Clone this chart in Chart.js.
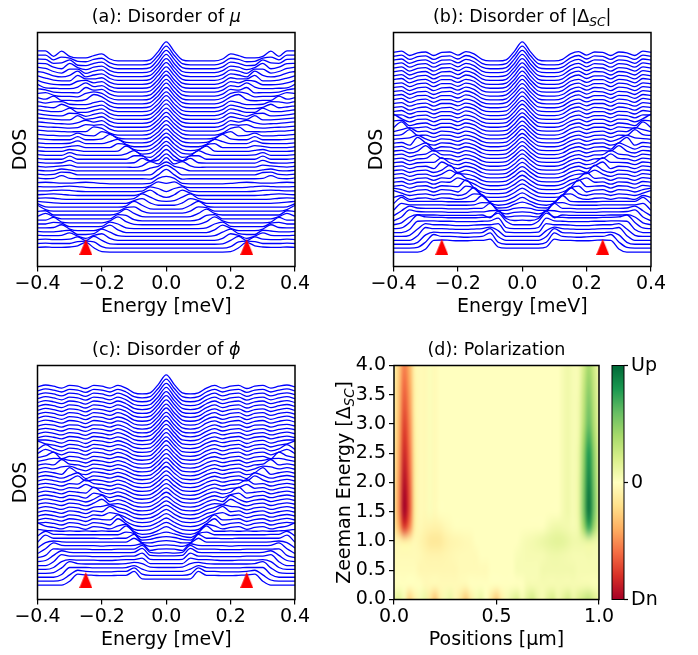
<!DOCTYPE html>
<html>
<head>
<meta charset="utf-8">
<title>DOS under disorder and polarization</title>
<script src="https://cdn.jsdelivr.net/npm/chart.js@4.4.1/dist/chart.umd.min.js"></script>
<style>
  html, body { margin: 0; padding: 0; background: #fff; }
  body { position: relative; width: 698px; height: 655px; overflow: hidden; }
  canvas { position: absolute; }
</style>
</head>
<body>
<canvas id="chartMu" width="320" height="327" style="left:0px;top:0px"></canvas>
<canvas id="chartDelta" width="320" height="327" style="left:356px;top:0px"></canvas>
<canvas id="chartPhi" width="320" height="327" style="left:0px;top:333px"></canvas>
<canvas id="chartPol" width="368" height="327" style="left:330px;top:333px"></canvas>
<script>
Chart.defaults.font.family = '"DejaVu Sans", "Liberation Sans", sans-serif';
Chart.defaults.color = '#000';

// energy grid (meV), positive half only - the DOS curves are particle-hole symmetric
const energies = [0, 0.025, 0.05, 0.075, 0.1, 0.125, 0.15, 0.175, 0.2, 0.225, 0.25, 0.275, 0.3, 0.325, 0.35, 0.375, 0.4];
const energyTicks = [-0.4, -0.2, 0, 0.2, 0.4];

// red triangles at the gap edge
const markerEnergies = [-0.25, 0.25];
const markerLevel = 1.3;

// DOS curves, one row per Zeeman step (lowest field first), values at `energies`
const dosMu = [
  [0,0,0,0,0,0,0,0,0.1,1.1,2.5,1.6,1.3,1.2,1.2,1.3,1.2],
  [0,0,0,0,0,0,0,0,0.4,1.6,1.8,1.7,1.2,1.2,1.2,1.3,1.2],
  [0,0,0,0,0,0,0,0.1,1.0,2.0,0.9,1.9,1.3,1.2,1.2,1.3,1.2],
  [0,0,0,0,0,0,0,0.5,1.7,1.3,0.5,1.1,1.9,1.3,1.2,1.2,1.3],
  [0,0,0,0,0,0,0.2,1.1,1.9,0.7,0.5,0.5,1.6,1.4,1.2,1.2,1.3],
  [0,0,0,0,0,0,0.7,1.9,1.1,0.5,0.5,0.5,0.9,2.0,1.3,1.2,1.2],
  [0,0,0,0,0,0.2,1.2,1.7,0.6,0.5,0.5,0.5,0.5,1.4,1.6,1.2,1.2],
  [0,0,0,0,0.1,0.8,2.0,1.0,0.5,0.5,0.5,0.5,0.5,0.7,1.9,1.2,1.2],
  [0,0,0,0,0.3,1.4,1.6,0.5,0.5,0.5,0.5,0.5,0.5,0.5,1.1,1.9,1.2],
  [0,0,0,0.1,0.9,2.0,0.9,0.5,0.5,0.5,0.5,0.5,0.5,0.5,0.5,1.6,1.4],
  [0,0,0,0.5,1.6,1.4,0.5,0.5,0.5,0.5,0.5,0.5,0.5,0.5,0.5,0.9,2.0],
  [0,0,0.1,1.0,2.0,0.8,0.5,0.5,0.5,0.5,0.5,0.5,0.5,0.5,0.5,0.6,1.4],
  [0,0,0.6,1.7,1.2,0.5,0.5,0.5,0.5,0.5,0.5,0.5,0.5,0.5,0.6,0.8,1.0],
  [0,0.2,1.1,1.9,0.7,0.5,0.5,0.5,0.5,0.5,0.5,0.5,0.5,0.6,0.8,0.9,0.8],
  [0,0.7,1.9,1.1,0.5,0.5,0.5,0.5,0.5,0.5,0.5,0.5,0.6,0.8,0.9,0.8,0.7],
  [0.5,1.3,1.7,0.6,0.5,0.5,0.5,0.5,0.5,0.5,0.5,0.6,0.8,0.9,0.8,0.7,0.7],
  [1.6,2.0,1.0,0.5,0.5,0.5,0.5,0.5,0.5,0.5,0.6,0.8,0.9,0.8,0.7,0.7,0.8],
  [2.4,1.9,0.6,0.5,0.5,0.5,0.5,0.5,0.6,0.8,0.9,0.8,0.7,0.7,0.8,0.9,0.8],
  [3.2,1.8,0.7,0.8,0.8,0.8,0.8,0.8,0.8,0.8,0.8,0.8,0.9,1.6,0.9,0.8,1.0],
  [3.3,2.2,0.8,0.8,0.8,0.8,0.8,0.8,0.8,0.8,0.8,0.8,1.4,1.5,0.9,0.8,1.0],
  [3.1,2.0,1.5,0.8,0.8,0.8,0.8,0.8,0.8,0.8,0.8,0.8,1.1,1.3,0.9,0.8,1.0],
  [3.2,1.6,2.2,1.1,0.7,0.8,0.8,0.8,0.8,0.8,0.8,0.8,1.3,1.1,0.9,0.8,1.0],
  [3.2,1.6,1.3,2.0,0.9,0.8,0.8,0.8,0.8,0.8,0.8,0.8,1.5,0.9,0.8,0.8,1.0],
  [3.3,1.6,0.4,1.7,1.7,0.8,0.8,0.8,0.8,0.8,0.8,0.8,1.6,0.8,0.8,0.8,1.0],
  [3.4,1.7,0.3,0.7,2.0,1.2,0.8,0.8,0.8,0.8,0.8,0.9,1.5,0.8,0.8,0.8,1.0],
  [3.4,1.7,0.3,0.1,1.1,2.2,0.9,0.8,0.8,0.8,0.8,1.1,1.3,0.8,0.8,0.8,1.0],
  [3.5,1.7,0.3,0,0.3,1.5,1.8,0.8,0.8,0.8,0.8,1.3,1.1,0.8,0.8,0.8,1.0],
  [3.5,1.8,0.3,0,0,0.6,1.9,1.3,0.8,0.8,0.8,1.5,0.9,0.8,0.8,0.8,1.0],
  [3.6,1.8,0.3,0,0,0.1,1.0,2.2,1.0,0.8,0.8,1.6,0.8,0.8,0.8,0.9,1.1],
  [3.7,1.8,0.3,0,0,0,0.3,1.3,1.9,0.8,0.9,1.5,0.8,0.8,0.9,1.0,1.2],
  [3.7,1.9,0.3,0,0,0,0,0.5,1.7,2.1,0.9,0.9,0.8,0.9,1.0,1.1,1.3],
  [3.8,1.9,0.3,0,0,0,0,0.5,1.7,1.5,1.7,0.9,0.8,0.9,1.0,1.1,1.3],
  [3.8,1.9,0.3,0,0,0,0,0.5,1.7,1.3,1.8,1.2,0.8,0.9,1.0,1.2,1.4],
  [3.9,2.0,0.3,0,0,0,0,0.5,1.7,1.3,1.0,2.0,0.9,0.9,1.0,1.2,1.4],
  [4.0,2.0,0.3,0,0,0,0,0.5,1.7,1.3,0.8,1.5,1.6,0.9,1.0,1.2,1.5],
  [4.0,2.0,0.3,0,0,0,0,0.5,1.7,1.3,0.8,0.8,1.9,1.1,1.0,1.2,1.5],
  [4.1,2.0,0.3,0,0,0,0,0.5,1.7,1.3,0.8,0.8,1.1,1.9,1.0,1.2,1.5],
  [4.1,2.1,0.3,0,0,0,0,0.5,1.7,1.3,0.8,0.8,0.9,1.6,1.5,1.2,1.6],
  [4.2,2.1,0.3,0,0,0,0,0.5,1.8,2.4,1.1,0.8,0.9,0.9,2.0,1.2,1.6],
  [4.3,2.1,0.3,0,0,0,0,0.5,1.7,2.1,1.7,0.8,0.9,0.9,1.2,1.9,1.7],
  [4.3,2.2,0.3,0,0,0,0,0.5,1.7,1.5,2.2,0.8,0.9,0.9,1.0,1.6,1.9],
  [4.4,2.2,0.3,0,0,0,0,0.5,1.7,1.4,2.4,1.3,0.9,0.9,1.0,1.1,2.0],
  [4.4,2.2,0.3,0,0,0,0,0.5,1.7,1.4,2.0,1.8,0.9,0.9,1.0,1.4,2.0],
  [4.5,2.3,0.3,0,0,0,0,0.5,1.7,1.4,1.4,2.3,0.9,0.9,1.1,1.6,2.2],
  [4.6,2.3,0.3,0,0,0,0,0.5,1.7,1.4,0.9,2.4,1.3,0.9,1.2,1.9,2.3],
  [4.6,2.3,0.3,0,0,0,0,0.5,1.7,1.4,0.8,1.9,1.9,0.9,1.3,2.1,2.4],
  [4.7,2.3,0.3,0,0,0,0,0.5,1.7,1.4,0.8,1.3,2.4,1.0,1.4,2.3,2.4],
  [4.7,2.4,0.3,0,0,0,0,0.5,1.7,1.4,0.8,0.9,2.3,1.5,1.4,2.4,2.5],
  [4.8,2.4,0.3,0,0,0,0,0.5,1.7,1.4,0.8,0.9,1.7,2.0,1.3,2.5,2.5],
  [4.9,2.4,0.3,0,0,0,0,0.5,1.8,1.4,0.8,0.8,1.2,2.5,1.2,2.6,2.6]
];

const dosDelta = [
  [1.0,1.0,1.0,1.3,3.3,3.0,3.0,2.9,2.9,3.0,3.1,3.0,0.8,0,0,0,0],
  [1.0,1.0,1.0,1.5,3.9,3.0,2.9,2.8,2.9,3.0,3.0,3.5,1.6,0.2,0,0,0],
  [1.0,1.0,1.0,2.0,4.0,3.0,2.9,2.8,2.9,3.0,3.0,3.1,2.4,0.5,0,0,0],
  [1.0,1.0,1.0,2.5,3.4,3.0,2.9,2.8,2.8,2.9,3.0,3.0,3.3,1.2,0,0,0],
  [1.0,1.0,1.1,3.3,3.0,3.0,2.9,2.8,2.8,2.9,3.0,3.0,3.3,1.9,0.3,0,0],
  [1.0,1.0,1.3,3.7,3.0,2.9,2.8,2.8,2.8,2.9,2.9,3.0,3.0,2.9,0.8,0,0],
  [1.0,1.0,1.9,4.0,3.0,2.9,2.8,2.8,2.8,2.8,2.9,2.9,3.0,3.5,1.6,0.2,0],
  [1.2,1.1,1.6,3.5,1.8,2.5,2.4,2.4,2.4,2.4,2.4,2.5,2.5,2.6,2.0,0.5,0],
  [1.3,1.2,1.0,2.7,2.6,2.3,2.3,2.2,2.2,2.2,2.3,2.3,2.3,2.4,2.8,1.0,0],
  [1.3,1.2,0.8,1.6,3.5,2.2,2.2,2.1,2.1,2.1,2.2,2.2,2.2,2.3,2.8,1.6,0.3],
  [1.4,1.2,0.7,0.7,2.6,2.7,2.1,2.0,2.0,2.0,2.1,2.1,2.1,2.1,2.1,2.5,0.7],
  [1.8,1.2,0.4,0.3,1.6,3.5,2.0,1.9,1.9,1.9,2.0,2.0,2.0,2.0,2.0,3.0,1.4],
  [2.0,1.0,0.2,0,0.7,2.7,2.9,1.9,1.5,1.8,1.9,1.5,1.9,1.8,1.5,2.5,2.0],
  [2.2,1.1,0.2,0,0,1.6,3.5,2.0,1.5,1.9,1.9,1.5,1.9,1.8,1.5,2.1,2.8],
  [2.4,1.2,0.2,0,0,0.5,2.4,2.9,1.4,1.9,2.0,1.4,2.0,1.9,1.4,2.0,2.4],
  [2.5,1.3,0.2,0,0,0.4,1.5,3.5,1.8,1.9,2.0,1.4,2.0,1.9,1.4,2.1,1.9],
  [2.6,1.3,0.2,0,0,0.4,1.5,2.3,3.0,1.9,2.0,1.4,2.0,1.9,1.4,2.1,1.9],
  [2.7,1.4,0.2,0,0,0.4,1.5,2.0,3.4,1.9,2.0,1.4,2.0,1.9,1.4,2.1,1.9],
  [2.8,1.4,0.2,0,0,0.4,1.5,2.0,2.1,3.0,2.0,1.4,2.0,1.9,1.4,2.1,1.9],
  [2.9,1.5,0.2,0,0,0.4,1.5,2.0,1.4,3.3,2.0,1.4,2.0,1.9,1.4,2.1,1.9],
  [3.0,1.5,0.2,0,0,0.4,1.5,2.0,1.4,2.1,3.1,1.4,2.0,1.9,1.4,2.1,1.9],
  [3.1,1.5,0.2,0,0,0.4,1.5,2.0,1.4,1.9,3.2,2.0,2.0,1.9,1.4,2.1,1.9],
  [3.2,1.6,0.2,0,0,0.4,1.5,2.0,1.4,1.9,2.0,3.2,2.0,1.9,1.4,2.1,1.9],
  [3.2,1.6,0.2,0,0,0.4,1.5,2.0,1.4,1.9,2.0,3.1,2.1,1.9,1.4,2.1,1.9],
  [3.3,1.6,0.2,0,0,0.4,1.5,2.0,1.4,1.9,2.0,1.9,3.3,1.9,1.4,2.1,1.9],
  [3.3,1.7,0.2,0,0,0.4,1.5,2.0,1.4,1.9,2.0,1.4,3.0,2.2,1.4,2.1,1.9],
  [3.4,1.7,0.2,0,0,0.4,1.5,2.0,1.4,1.9,2.0,1.4,2.0,3.4,1.4,2.1,1.9],
  [3.4,1.7,0.2,0,0,0.4,1.5,2.0,1.4,1.9,2.0,1.4,2.0,2.9,2.3,2.1,1.9],
  [3.5,1.7,0.2,0,0,0.4,1.5,2.0,1.4,1.9,2.0,1.4,2.0,1.9,3.4,2.1,1.9],
  [3.5,1.8,0.2,0,0,0.4,1.5,2.0,1.4,1.9,2.0,1.4,2.0,1.9,2.9,2.4,1.9],
  [3.6,1.8,0.2,0,0,0.4,1.6,2.1,1.4,2.0,2.0,1.4,2.1,1.9,1.7,3.4,1.9],
  [3.7,1.8,0.2,0,0,0.4,1.6,2.1,1.4,2.0,2.0,1.4,2.1,1.9,1.4,2.8,2.6],
  [3.7,1.9,0.2,0,0,0.4,1.6,2.1,1.4,2.0,2.0,1.4,2.1,2.0,1.4,2.2,3.4],
  [3.8,1.9,0.2,0,0,0.4,1.6,2.1,1.4,2.0,2.0,1.4,2.1,2.0,1.4,2.2,2.1],
  [3.9,1.9,0.2,0,0,0.4,1.6,2.2,1.4,2.0,2.0,1.4,2.1,2.0,1.4,2.3,2.0],
  [3.9,2.0,0.2,0,0,0.4,1.7,2.2,1.4,2.1,2.0,1.4,2.2,2.0,1.4,2.3,2.1],
  [4.0,2.0,0.2,0,0,0.4,1.7,2.2,1.5,2.1,2.1,1.4,2.2,2.0,1.4,2.3,2.1],
  [4.1,2.0,0.2,0,0,0.4,1.7,2.2,1.5,2.1,2.1,1.4,2.2,2.0,1.4,2.4,2.1],
  [4.1,2.1,0.3,0,0,0.4,1.7,2.3,1.5,2.1,2.1,1.4,2.2,2.1,1.4,2.4,2.1],
  [4.2,2.1,0.3,0,0,0.4,1.7,2.3,1.5,2.2,2.1,1.4,2.2,2.1,1.4,2.4,2.2],
  [4.3,2.1,0.3,0,0,0.4,1.7,2.3,1.5,2.2,2.1,1.4,2.3,2.1,1.4,2.4,2.2],
  [4.3,2.2,0.3,0,0,0.4,1.8,2.3,1.5,2.2,2.2,1.4,2.3,2.1,1.4,2.4,2.2],
  [4.4,2.2,0.3,0,0,0.4,1.8,2.3,1.5,2.2,2.2,1.4,2.3,2.1,1.4,2.5,2.2],
  [4.5,2.2,0.3,0,0,0.4,1.8,2.4,1.5,2.2,2.2,1.4,2.3,2.1,1.4,2.5,2.2],
  [4.5,2.3,0.3,0,0,0.4,1.8,2.4,1.5,2.3,2.2,1.4,2.3,2.1,1.4,2.5,2.2],
  [4.6,2.3,0.3,0,0,0.4,1.8,2.4,1.5,2.3,2.2,1.4,2.3,2.1,1.4,2.5,2.2],
  [4.7,2.3,0.3,0,0,0.4,1.8,2.4,1.5,2.3,2.2,1.4,2.3,2.1,1.4,2.5,2.2],
  [4.7,2.4,0.3,0,0,0.4,1.8,2.4,1.5,2.3,2.2,1.4,2.3,2.1,1.4,2.5,2.2],
  [4.8,2.4,0.3,0,0,0.4,1.8,2.4,1.5,2.3,2.2,1.4,2.3,2.1,1.4,2.5,2.2],
  [4.9,2.4,0.3,0,0,0.4,1.8,2.4,1.5,2.3,2.2,1.4,2.3,2.1,1.4,2.5,2.2]
];

const dosPhi = [
  [1.5,1.5,1.5,1.6,3.5,2.5,2.5,2.4,2.4,2.5,2.6,2.8,1.0,0,0,0,0],
  [1.5,1.5,1.5,1.8,3.4,2.5,2.5,2.4,2.4,2.4,2.5,2.8,1.6,0.3,0,0,0],
  [1.5,1.5,1.5,2.1,3.0,2.5,2.4,2.4,2.4,2.4,2.5,2.5,2.5,0.7,0,0,0],
  [1.5,1.5,1.6,2.5,2.8,2.5,2.4,2.4,2.4,2.4,2.4,2.5,3.0,1.4,0.2,0,0],
  [1.5,1.5,1.5,2.9,2.5,2.5,2.4,2.3,2.3,2.4,2.4,2.4,2.5,2.0,0.5,0,0],
  [1.5,1.5,1.6,3.2,2.4,2.4,2.3,2.3,2.3,2.3,2.4,2.4,2.4,2.8,1.0,0,0],
  [1.5,1.5,1.6,3.4,2.4,2.3,2.3,2.3,2.3,2.3,2.3,2.3,2.4,2.8,1.6,0.3,0],
  [1.3,1.2,1.4,3.2,2.2,2.2,2.2,2.1,2.1,2.1,2.2,2.2,2.2,2.2,2.3,0.6,0],
  [1.3,1.2,0.9,2.6,2.2,2.1,2.1,2.1,2.0,2.1,2.1,2.1,2.1,2.2,2.8,1.3,0.1],
  [1.3,1.2,0.9,1.7,3.0,2.0,2.0,2.0,2.0,2.0,2.0,2.0,2.0,2.1,2.3,1.9,0.5],
  [1.4,1.2,0.8,0.9,3.0,2.0,2.0,1.9,1.9,2.0,2.0,2.0,2.0,2.0,2.0,2.8,1.0],
  [1.4,1.2,0.7,0.5,2.2,2.6,1.9,1.9,1.9,1.9,1.9,1.9,1.9,2.0,2.0,2.8,1.6],
  [1.6,1.1,0.5,0.2,1.4,3.2,1.8,1.8,1.9,1.8,1.9,1.8,1.9,1.8,1.9,2.0,2.3],
  [2.0,1.0,0.2,0,0.7,2.6,2.2,1.4,1.8,2.0,1.3,1.8,2.0,1.4,1.8,2.1,3.0],
  [2.1,1.1,0.2,0,0.3,1.7,3.0,1.4,1.8,2.0,1.3,1.8,2.0,1.4,1.8,2.1,1.8],
  [2.2,1.1,0.2,0,0.3,1.3,3.0,1.7,1.8,2.0,1.3,1.8,2.0,1.4,1.8,2.1,1.7],
  [2.3,1.2,0.2,0,0.3,1.3,2.2,2.6,1.8,2.0,1.3,1.8,2.0,1.4,1.8,2.1,1.7],
  [2.4,1.2,0.2,0,0.3,1.3,1.9,3.2,1.8,2.0,1.3,1.8,2.0,1.4,1.8,2.1,1.7],
  [2.5,1.3,0.2,0,0.3,1.3,1.9,2.6,2.2,2.0,1.3,1.8,2.0,1.4,1.8,2.1,1.7],
  [2.6,1.3,0.2,0,0.3,1.3,1.9,1.7,3.0,2.0,1.3,1.8,2.0,1.4,1.8,2.1,1.7],
  [2.7,1.3,0.2,0,0.3,1.3,1.9,1.4,3.0,2.0,1.3,1.8,2.0,1.4,1.8,2.1,1.7],
  [2.8,1.4,0.2,0,0.3,1.3,1.9,1.4,2.2,2.6,1.3,1.8,2.0,1.4,1.8,2.1,1.7],
  [2.9,1.4,0.2,0,0.3,1.3,1.9,1.4,1.8,3.1,1.6,1.8,2.0,1.4,1.8,2.1,1.7],
  [3.0,1.5,0.2,0,0.3,1.3,1.9,1.4,1.8,2.0,2.8,1.8,2.0,1.4,1.8,2.1,1.7],
  [3.1,1.5,0.2,0,0.3,1.3,1.9,1.4,1.8,2.0,3.0,1.9,2.0,1.4,1.8,2.1,1.7],
  [3.2,1.6,0.2,0,0.3,1.3,1.9,1.4,1.8,2.0,1.7,3.0,2.0,1.4,1.8,2.1,1.7],
  [3.3,1.6,0.2,0,0.3,1.3,1.9,1.4,1.8,2.0,1.3,2.8,2.1,1.4,1.8,2.1,1.7],
  [3.4,1.7,0.2,0,0.3,1.3,1.9,1.4,1.8,2.0,1.3,1.8,3.1,1.4,1.8,2.1,1.7],
  [3.5,1.7,0.2,0,0.3,1.3,1.9,1.4,1.8,2.0,1.3,1.8,2.5,2.3,1.8,2.1,1.7],
  [3.6,1.8,0.2,0,0.3,1.3,1.9,1.4,1.8,2.0,1.3,1.8,2.0,3.2,1.8,2.1,1.7],
  [3.7,1.8,0.2,0,0.3,1.3,1.9,1.4,1.8,2.0,1.3,1.8,2.0,2.4,2.5,2.1,1.7],
  [3.8,1.9,0.2,0,0.3,1.4,1.9,1.4,1.8,2.0,1.3,1.8,2.0,1.4,3.1,2.1,1.7],
  [3.9,1.9,0.2,0,0.3,1.4,2.0,1.4,1.9,2.1,1.3,1.9,2.1,1.4,2.1,2.8,1.7],
  [4.0,2.0,0.2,0,0.3,1.4,2.0,1.4,1.9,2.1,1.3,1.9,2.1,1.4,1.9,3.0,1.8],
  [4.0,2.0,0.2,0,0.3,1.4,2.0,1.5,1.9,2.1,1.3,1.9,2.1,1.4,1.9,2.2,3.0],
  [4.1,2.0,0.2,0,0.3,1.4,2.0,1.5,1.9,2.1,1.3,1.9,2.1,1.4,1.9,2.2,2.2],
  [4.1,2.1,0.2,0,0.3,1.4,2.0,1.5,1.9,2.1,1.4,1.9,2.1,1.5,1.9,2.2,1.8],
  [4.2,2.1,0.2,0,0.3,1.4,2.1,1.5,1.9,2.1,1.4,1.9,2.1,1.5,1.9,2.2,1.8],
  [4.2,2.1,0.3,0,0.3,1.4,2.1,1.5,1.9,2.1,1.4,1.9,2.1,1.5,1.9,2.2,1.8],
  [4.3,2.1,0.3,0,0.3,1.4,2.1,1.5,2.0,2.1,1.4,2.0,2.1,1.5,2.0,2.2,1.8],
  [4.3,2.2,0.3,0,0.3,1.5,2.1,1.5,2.0,2.2,1.4,2.0,2.2,1.5,2.0,2.3,1.8],
  [4.4,2.2,0.3,0,0.3,1.5,2.1,1.5,2.0,2.2,1.4,2.0,2.2,1.5,2.0,2.3,1.8],
  [4.4,2.2,0.3,0,0.3,1.5,2.2,1.5,2.0,2.2,1.4,2.0,2.2,1.5,2.0,2.3,1.8],
  [4.5,2.3,0.3,0,0.3,1.5,2.2,1.5,2.0,2.2,1.4,2.0,2.2,1.5,2.0,2.3,1.8],
  [4.6,2.3,0.3,0,0.3,1.5,2.2,1.5,2.0,2.2,1.4,2.0,2.2,1.5,2.0,2.3,1.8],
  [4.6,2.3,0.3,0,0.3,1.5,2.2,1.5,2.0,2.2,1.4,2.0,2.2,1.5,2.0,2.3,1.8],
  [4.7,2.3,0.3,0,0.3,1.5,2.2,1.5,2.0,2.2,1.4,2.0,2.2,1.5,2.0,2.3,1.8],
  [4.7,2.4,0.3,0,0.3,1.5,2.2,1.5,2.0,2.2,1.4,2.0,2.2,1.5,2.0,2.3,1.8],
  [4.8,2.4,0.3,0,0.3,1.5,2.2,1.5,2.0,2.2,1.4,2.0,2.2,1.5,2.0,2.3,1.8],
  [4.9,2.4,0.3,0,0.3,1.5,2.2,1.5,2.0,2.2,1.4,2.0,2.2,1.5,2.0,2.3,1.8]
];

// panel (d): spin polarization map, -1 = Dn, +1 = Up
const positions = [0, 0.025, 0.05, 0.075, 0.1, 0.125, 0.15, 0.175, 0.2, 0.225, 0.25, 0.275, 0.3, 0.325, 0.35, 0.375, 0.4, 0.425, 0.45, 0.475, 0.5,
  0.525, 0.55, 0.575, 0.6, 0.625, 0.65, 0.675, 0.7, 0.725, 0.75, 0.775, 0.8, 0.825, 0.85, 0.875, 0.9, 0.925, 0.95, 0.975, 1];
const zeemanLevels = [0, 0.25, 0.5, 0.75, 1, 1.25, 1.5, 1.75, 2, 2.25, 2.5, 2.75, 3, 3.25, 3.5, 3.75, 4];
const polarization = [
  [.1,.15,.05,-.25,-.1,.05,.1,-.15,-.3,-.1,.05,.1,-.05,-.15,-.28,-.12,.05,.1,0,-.15,-.28,-.1,.05,.12,.18,.05,.15,.22,.1,.05,.15,.2,.08,.15,.22,.1,.18,.25,.3,.2,.1],
  [0,0,0,0,0,0,-.03,-.03,-.03,-.03,-.03,-.03,-.03,-.03,-.03,0,0,0,0,0,0,0,0,0,0,0,.05,.05,.05,.05,.05,.05,.05,.05,.05,.05,.05,.05,.05,.03,.03],
  [-.02,-.02,-.02,-.02,-.02,-.05,-.05,-.05,-.05,-.05,-.05,-.05,-.05,-.03,-.03,-.03,-.03,-.03,-.03,0,0,0,0,0,.04,.04,.04,.04,.04,.07,.07,.07,.07,.07,.07,.07,.05,.05,.05,.05,.05],
  [-.03,-.03,-.03,-.03,-.03,-.04,-.06,-.07,-.07,-.07,-.06,-.05,-.04,-.03,-.03,-.03,-.03,0,0,0,0,0,0,0,.03,.04,.05,.05,.05,.05,.07,.08,.08,.07,.06,.05,.05,.05,.06,.05,.04],
  [-.05,-.07,-.1,-.08,-.04,-.06,-.1,-.14,-.15,-.14,-.1,-.07,-.06,-.05,-.04,-.03,0,0,0,0,0,0,0,0,0,.03,.05,.06,.08,.1,.12,.14,.15,.14,.11,.08,.08,.1,.12,.1,.06],
  [-.12,-.4,-.8,-.56,-.12,-.04,-.06,-.07,-.08,-.07,-.04,-.02,0,0,0,0,0,0,0,0,0,0,0,0,0,0,0,0,0,0,.04,.07,.08,.07,.06,.04,.09,.41,.75,.45,.15],
  [-.15,-.5,-1,-.7,-.15,-.03,-.04,.02,-.03,0,0,0,0,0,0,0,0,0,0,0,0,0,0,0,0,0,0,0,0,0,0,0,0,.05,.08,.04,.11,.52,.95,.57,.19],
  [-.15,-.5,-1,-.7,-.15,-.03,-.04,.02,-.03,0,0,0,0,0,0,0,0,0,0,0,0,0,0,0,0,0,0,0,0,0,0,0,0,.05,.08,.04,.11,.52,.95,.57,.19],
  [-.14,-.48,-.95,-.67,-.14,-.03,-.04,.02,-.03,0,0,0,0,0,0,0,0,0,0,0,0,0,0,0,0,0,0,0,0,0,0,0,0,.05,.08,.04,.11,.5,.9,.54,.18],
  [-.14,-.45,-.9,-.63,-.14,-.03,-.04,.02,-.03,0,0,0,0,0,0,0,0,0,0,0,0,0,0,0,0,0,0,0,0,0,0,0,0,.05,.08,.04,.1,.47,.85,.51,.17],
  [-.13,-.43,-.85,-.6,-.13,-.03,-.04,.02,-.03,0,0,0,0,0,0,0,0,0,0,0,0,0,0,0,0,0,0,0,0,0,0,0,0,.05,.08,.04,.1,.44,.8,.48,.16],
  [-.12,-.4,-.8,-.56,-.12,-.03,-.04,.02,-.03,0,0,0,0,0,0,0,0,0,0,0,0,0,0,0,0,0,0,0,0,0,0,0,0,.05,.08,.04,.08,.39,.7,.42,.14],
  [-.11,-.38,-.75,-.53,-.11,-.03,-.04,.02,-.03,0,0,0,0,0,0,0,0,0,0,0,0,0,0,0,0,0,0,0,0,0,0,0,0,.05,.08,.04,.07,.33,.6,.36,.12],
  [-.1,-.35,-.7,-.49,-.1,-.03,-.04,.02,-.03,0,0,0,0,0,0,0,0,0,0,0,0,0,0,0,0,0,0,0,0,0,0,0,0,.05,.08,.04,.07,.3,.55,.33,.11],
  [-.1,-.33,-.65,-.46,-.1,-.03,-.04,.02,-.03,0,0,0,0,0,0,0,0,0,0,0,0,0,0,0,0,0,0,0,0,0,0,0,0,.05,.08,.04,.06,.28,.5,.3,.1],
  [-.09,-.3,-.6,-.42,-.09,-.03,-.04,.02,-.03,0,0,0,0,0,0,0,0,0,0,0,0,0,0,0,0,0,0,0,0,0,0,0,0,.05,.08,.04,.05,.25,.45,.27,.09],
  [-.08,-.28,-.55,-.39,-.08,-.03,-.04,.02,-.03,0,0,0,0,0,0,0,0,0,0,0,0,0,0,0,0,0,0,0,0,0,0,0,0,.05,.08,.04,.05,.22,.4,.24,.08]
];
const positionTicks = [0, 0.5, 1];
const zeemanTicks = [0, 0.5, 1, 1.5, 2, 2.5, 3, 3.5, 4];
const colorbarTicks = [{value: 1, label: 'Up'}, {value: 0, label: '0'}, {value: -1, label: 'Dn'}];

// styling
const curveStep = 1;           // waterfall offset between successive Zeeman steps
const dosRange = [-3.7, 56.3];
const tickFont = {size: 19};
const titleSize = 17.5;
const rdYlGn = ['#a50026', '#d73027', '#f46d43', '#fdae61', '#fee08b', '#ffffbf', '#d9ef8b', '#a6d96a', '#66bd63', '#1a9850', '#006837'];

const fmtTick = v => (Math.abs(v) < 1e-9 ? 0 : v).toFixed(1).replace('-', '\u2212');

function mirrorCurve(row, shift) {
  const pts = [];
  for (let k = energies.length - 1; k > 0; k--) pts.push({x: -energies[k], y: row[k] + shift});
  energies.forEach((e, k) => pts.push({x: e, y: row[k] + shift}));
  return pts;
}

const triangleMarker = document.createElement('canvas');
triangleMarker.width = 13;
triangleMarker.height = 16;
(() => {
  const t = triangleMarker.getContext('2d');
  t.fillStyle = '#ff0000';
  t.beginPath();
  t.moveTo(6.5, 0);
  t.lineTo(13, 16);
  t.lineTo(0, 16);
  t.closePath();
  t.fill();
})();

function drawRich(ctx, segments, cx, cy, size, rotated) {
  ctx.save();
  ctx.translate(cx, cy);
  if (rotated) ctx.rotate(-Math.PI / 2);
  const fontOf = s => (s.italic ? 'italic ' : '') + (s.sub ? size * 0.7 : size) + 'px "DejaVu Sans", sans-serif';
  let total = 0;
  const widths = segments.map(s => {
    ctx.font = fontOf(s);
    const w = ctx.measureText(s.text).width;
    total += w;
    return w;
  });
  let x = -total / 2;
  ctx.fillStyle = '#000';
  ctx.textAlign = 'left';
  ctx.textBaseline = 'alphabetic';
  segments.forEach((s, i) => {
    ctx.font = fontOf(s);
    ctx.fillText(s.text, x, size * 0.36 + (s.sub ? size * 0.22 : 0));
    x += widths[i];
  });
  ctx.restore();
}

const richTextPlugin = {
  id: 'richText',
  afterDraw(chart, args, opts) {
    const a = chart.chartArea;
    if (opts.title) drawRich(chart.ctx, opts.title, (a.left + a.right) / 2, a.top - 17, titleSize, false);
    if (opts.yLabel) drawRich(chart.ctx, opts.yLabel, a.left - opts.yLabelGap, (a.top + a.bottom) / 2, 19, true);
  }
};

const framePlugin = {
  id: 'frame',
  afterDraw(chart) {
    const {ctx, chartArea: a} = chart;
    ctx.save();
    ctx.strokeStyle = '#000';
    ctx.lineWidth = 1.5;
    ctx.strokeRect(a.left, a.top, a.right - a.left, a.bottom - a.top);
    ctx.restore();
  }
};

function colorFor(v) {
  const t = (Math.max(-1, Math.min(1, v)) + 1) / 2 * (rdYlGn.length - 1);
  const i = Math.min(Math.floor(t), rdYlGn.length - 2);
  const f = t - i;
  const a = rdYlGn[i], b = rdYlGn[i + 1];
  const ch = (c, p) => parseInt(c.substr(p, 2), 16);
  return [1, 3, 5].map(p => Math.round(ch(a, p) + (ch(b, p) - ch(a, p)) * f));
}

const heatmapPlugin = {
  id: 'heatmap',
  beforeDatasetsDraw(chart) {
    const {ctx, chartArea: a, scales: {x, y}} = chart;
    const cols = positions.length, rows = zeemanLevels.length;
    const off = document.createElement('canvas');
    off.width = cols;
    off.height = rows;
    const octx = off.getContext('2d');
    const img = octx.createImageData(cols, rows);
    polarization.forEach((row, r) => {
      row.forEach((v, c) => {
        const [R, G, B] = colorFor(v);
        const idx = ((rows - 1 - r) * cols + c) * 4;
        img.data[idx] = R; img.data[idx + 1] = G; img.data[idx + 2] = B; img.data[idx + 3] = 255;
      });
    });
    octx.putImageData(img, 0, 0);
    const dx = positions[1] - positions[0], dy = zeemanLevels[1] - zeemanLevels[0];
    const left = x.getPixelForValue(positions[0] - dx / 2);
    const right = x.getPixelForValue(positions[cols - 1] + dx / 2);
    const top = y.getPixelForValue(zeemanLevels[rows - 1] + dy / 2);
    const bottom = y.getPixelForValue(zeemanLevels[0] - dy / 2);
    ctx.save();
    ctx.beginPath();
    ctx.rect(a.left, a.top, a.right - a.left, a.bottom - a.top);
    ctx.clip();
    ctx.imageSmoothingEnabled = true;
    ctx.imageSmoothingQuality = 'high';
    ctx.drawImage(off, left, top, right - left, bottom - top);
    ctx.restore();
  }
};

const colorbarPlugin = {
  id: 'colorbar',
  afterDraw(chart) {
    const {ctx, chartArea: a} = chart;
    const x0 = a.right + 13, w = 12;
    const grad = ctx.createLinearGradient(0, a.bottom, 0, a.top);
    rdYlGn.forEach((c, i) => grad.addColorStop(i / (rdYlGn.length - 1), c));
    ctx.save();
    ctx.fillStyle = grad;
    ctx.fillRect(x0, a.top, w, a.bottom - a.top);
    ctx.strokeStyle = '#000';
    ctx.lineWidth = 1;
    ctx.strokeRect(x0, a.top, w, a.bottom - a.top);
    ctx.font = '19px "DejaVu Sans", sans-serif';
    ctx.fillStyle = '#000';
    ctx.textAlign = 'left';
    ctx.textBaseline = 'middle';
    colorbarTicks.forEach(t => {
      const py = a.bottom - (t.value + 1) / 2 * (a.bottom - a.top);
      ctx.beginPath();
      ctx.moveTo(x0 + w, py);
      ctx.lineTo(x0 + w + 4, py);
      ctx.lineWidth = 1.2;
      ctx.stroke();
      ctx.fillText(t.label, x0 + w + 7, py + 1);
    });
    ctx.restore();
  }
};

function xAxis(min, max, ticks, label) {
  return {
    type: 'linear', min: min, max: max,
    afterBuildTicks: s => { s.ticks = ticks.map(v => ({value: v})); },
    ticks: {font: tickFont, color: '#000', padding: 1, maxRotation: 0, autoSkip: false, callback: v => fmtTick(v)},
    grid: {drawOnChartArea: false, drawTicks: true, tickLength: 5, color: '#000', lineWidth: 1.2},
    border: {display: false},
    title: {display: true, text: label, font: tickFont, color: '#000', padding: {top: 0, bottom: 9}},
    afterFit: s => { s.height = 60.5; }
  };
}

function buildDosChart(canvasId, rows, titleSegments) {
  const curves = rows.map((row, n) => ({
    data: mirrorCurve(row, n * curveStep),
    borderColor: '#0000ff',
    borderWidth: 1.3,
    pointRadius: 0,
    cubicInterpolationMode: 'monotone',
    fill: false,
    order: 1
  }));
  const markers = {
    data: markerEnergies.map(e => ({x: e, y: markerLevel})),
    showLine: false,
    pointStyle: triangleMarker,
    pointRadius: 8,
    order: 0
  };
  return new Chart(document.getElementById(canvasId), {
    type: 'line',
    data: {datasets: [markers, ...curves]},
    options: {
      responsive: false,
      animation: false,
      events: [],
      layout: {padding: {top: 32.5, right: 25, left: 0, bottom: 0}},
      plugins: {legend: {display: false}, tooltip: {enabled: false}, richText: {title: titleSegments}},
      scales: {
        x: xAxis(-0.4, 0.4, energyTicks, 'Energy [meV]'),
        y: {
          type: 'linear', min: dosRange[0], max: dosRange[1],
          ticks: {display: false},
          grid: {display: false},
          border: {display: false},
          title: {display: true, text: 'DOS', font: tickFont, color: '#000', padding: {top: 10, bottom: 0}},
          afterFit: s => { s.width = 37.5; }
        }
      }
    },
    plugins: [framePlugin, richTextPlugin]
  });
}

buildDosChart('chartMu', dosMu, [{text: '(a): Disorder of '}, {text: '\u03bc', italic: true}]);
buildDosChart('chartDelta', dosDelta, [{text: '(b): Disorder of |\u0394'}, {text: 'SC', italic: true, sub: true}, {text: '|'}]);
buildDosChart('chartPhi', dosPhi, [{text: '(c): Disorder of '}, {text: '\u03d5', italic: true}]);

new Chart(document.getElementById('chartPol'), {
  type: 'scatter',
  data: {datasets: []},
  options: {
    responsive: false,
    animation: false,
    events: [],
    layout: {padding: {top: 32.5, right: 99, left: 0, bottom: 0}},
    plugins: {
      legend: {display: false},
      tooltip: {enabled: false},
      richText: {
        title: [{text: '(d): Polarization'}],
        yLabel: [{text: 'Zeeman Energy [\u0394'}, {text: 'SC', italic: true, sub: true}, {text: ']'}],
        yLabelGap: 51
      }
    },
    scales: {
      x: xAxis(0, 1, positionTicks, 'Positions [\u03bcm]'),
      y: {
        type: 'linear', min: 0, max: 4,
        afterBuildTicks: s => { s.ticks = zeemanTicks.map(v => ({value: v})); },
        ticks: {font: tickFont, color: '#000', padding: 3, autoSkip: false, callback: v => fmtTick(v)},
        grid: {drawOnChartArea: false, drawTicks: true, tickLength: 5, color: '#000', lineWidth: 1.2},
        border: {display: false},
        afterFit: s => { s.width = 64; }
      }
    }
  },
  plugins: [heatmapPlugin, framePlugin, richTextPlugin, colorbarPlugin]
});
</script>
</body>
</html>
